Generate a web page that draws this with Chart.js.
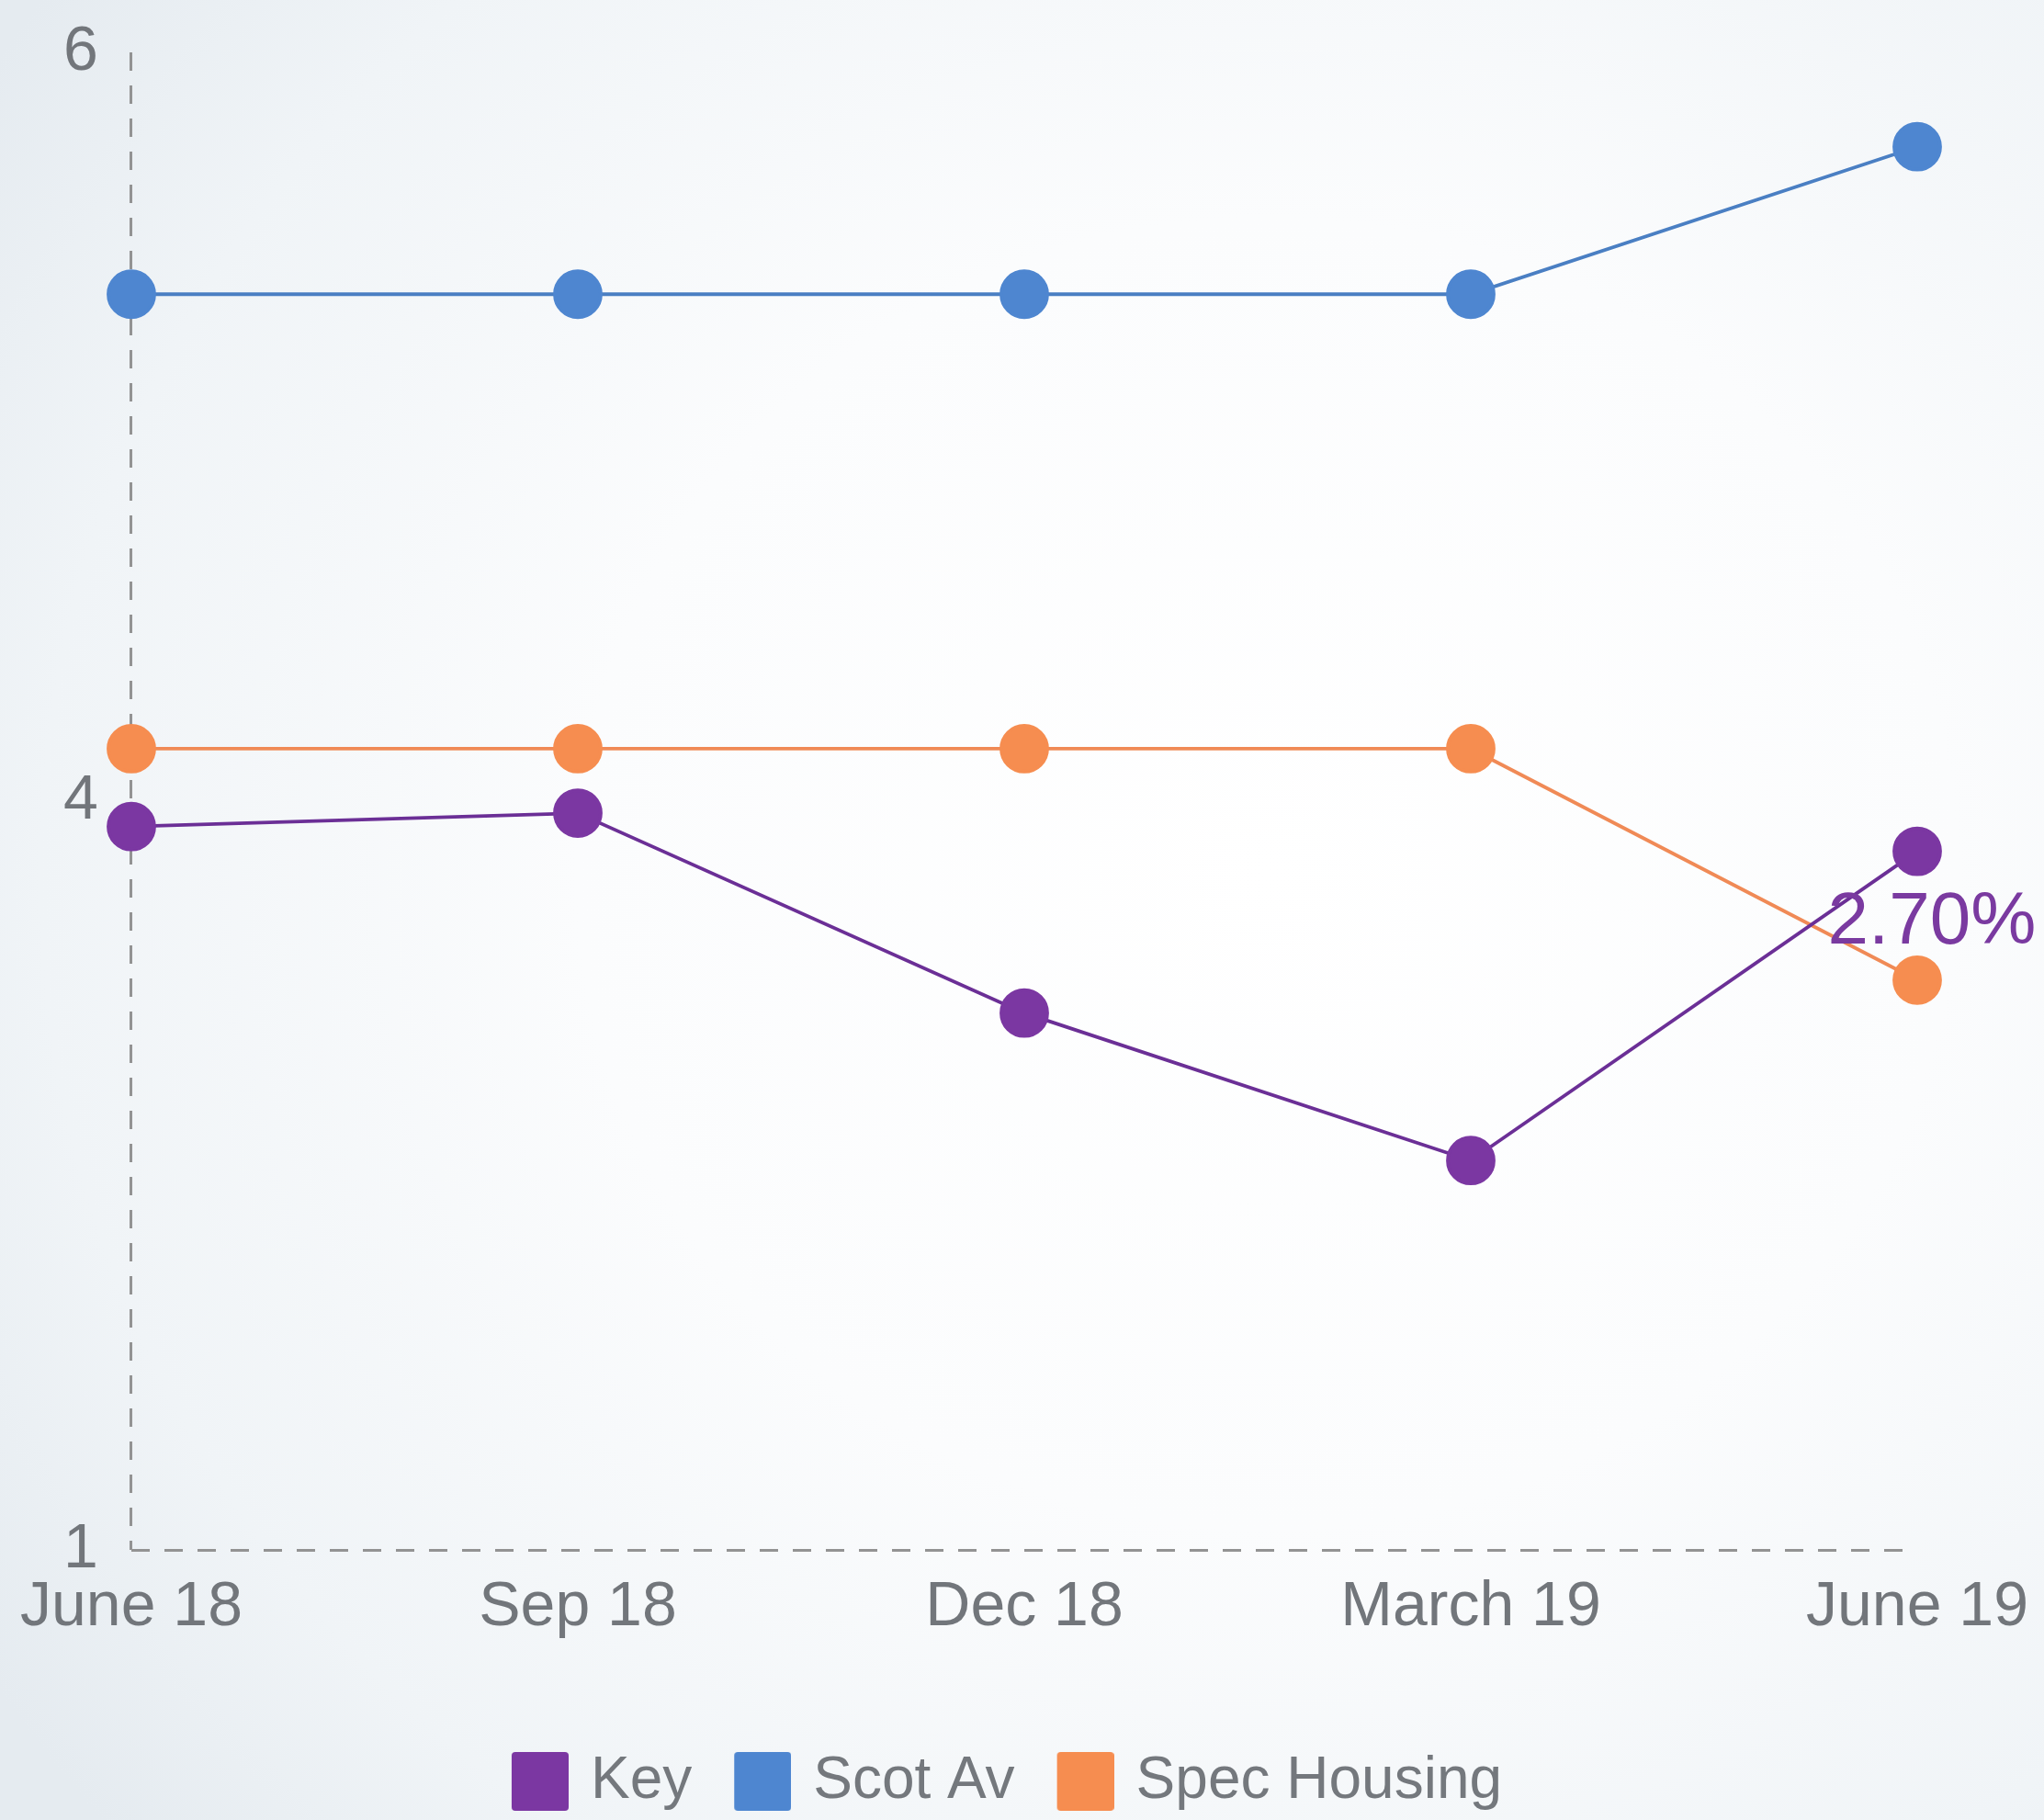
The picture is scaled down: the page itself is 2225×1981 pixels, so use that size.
<!DOCTYPE html>
<html>
<head>
<meta charset="utf-8">
<script src="https://cdn.jsdelivr.net/npm/chart.js@4/dist/chart.umd.min.js"></script>
<style>
  html, body { margin: 0; padding: 0; }
  body {
    width: 2225px; height: 1981px; overflow: hidden;
    background: radial-gradient(ellipse 75% 80% at 62% 48%, #ffffff 0%, #fbfcfd 45%, #f0f4f7 80%, #e5ebf0 100%);
  }
  #wrap { position: absolute; left: 0; top: 0; width: 2225px; height: 1981px; }
</style>
</head>
<body>
<div id="wrap"><canvas id="c"></canvas></div>
<script>
// ---- data ----
const categories = ['June 18', 'Sep 18', 'Dec 18', 'March 19', 'June 19'];
const yTickLabels = ['1', '4', '6'];            // labels shown at axis positions 0, 1, 2
const keyValues = [0.966, 0.984, 0.717, 0.520, 0.933];
const scotAvValues = [1.677, 1.677, 1.677, 1.677, 1.874];
const specHousingValues = [1.070, 1.070, 1.070, 1.070, 0.761];
const keyPointLabels = [null, null, null, null, '2.70%'];

const FONT = '"Liberation Sans", Arial, Helvetica, sans-serif';
const AXIS_GRAY = '#939393';

function legendSwatch(color) {
  const c = document.createElement('canvas');
  c.width = 70; c.height = 64;
  const g = c.getContext('2d');
  g.fillStyle = color;
  const x = 8, y = 0, w = 62, h = 64, r = 4;
  g.beginPath();
  g.moveTo(x + r, y); g.lineTo(x + w - r, y); g.quadraticCurveTo(x + w, y, x + w, y + r);
  g.lineTo(x + w, y + h - r); g.quadraticCurveTo(x + w, y + h, x + w - r, y + h);
  g.lineTo(x + r, y + h); g.quadraticCurveTo(x, y + h, x, y + h - r);
  g.lineTo(x, y + r); g.quadraticCurveTo(x, y, x + r, y);
  g.fill();
  return c;
}

const pointLabelPlugin = {
  id: 'pointLabels',
  afterDatasetsDraw(chart) {
    const meta = chart.getDatasetMeta(0);
    const ctx = chart.ctx;
    ctx.save();
    ctx.font = '80px ' + FONT;
    ctx.fillStyle = '#7a3aa0';
    ctx.textAlign = 'center';
    ctx.textBaseline = 'middle';
    keyPointLabels.forEach((t, i) => {
      if (!t) return;
      const p = meta.data[i];
      ctx.fillText(t, p.x + 16, p.y + 78);
    });
    ctx.restore();
  }
};

const firstLineOnly = (ctx) => ctx.index === 0 ? AXIS_GRAY : 'rgba(0,0,0,0)';

new Chart(document.getElementById('c'), {
  type: 'line',
  data: {
    labels: categories,
    datasets: [
      {
        label: 'Key', data: keyValues,
        borderColor: '#6b2f96', backgroundColor: '#7b37a2',
        pointBackgroundColor: '#7b37a2', pointBorderColor: '#7b37a2',
        borderWidth: 3.8, pointRadius: 25, pointHoverRadius: 25, tension: 0, fill: false
      },
      {
        label: 'Scot Av', data: scotAvValues,
        borderColor: '#4a7fc3', backgroundColor: '#4e86d0',
        pointBackgroundColor: '#4e86d0', pointBorderColor: '#4e86d0',
        borderWidth: 3.8, pointRadius: 25, pointHoverRadius: 25, tension: 0, fill: false
      },
      {
        label: 'Spec Housing', data: specHousingValues,
        borderColor: '#f08a56', backgroundColor: '#f68d50',
        pointBackgroundColor: '#f68d50', pointBorderColor: '#f68d50',
        borderWidth: 3.8, pointRadius: 25, pointHoverRadius: 25, tension: 0, fill: false
      }
    ]
  },
  options: {
    responsive: true,
    maintainAspectRatio: false,
    animation: false,
    layout: { padding: { top: 57, right: 98, bottom: 0, left: 65 } },
    plugins: {
      tooltip: { enabled: false },
      legend: {
        position: 'bottom',
        labels: {
          font: { family: FONT, size: 64 },
          color: '#74787d',
          usePointStyle: true,
          pointStyleWidth: 54,
          boxHeight: 64,
          padding: 46,
          generateLabels(chart) {
            return chart.data.datasets.map((ds, i) => ({
              text: ds.label, fillStyle: ds.backgroundColor, strokeStyle: ds.backgroundColor,
              lineWidth: 0, fontColor: '#74787d', datasetIndex: i, hidden: false,
              pointStyle: legendSwatch(ds.backgroundColor)
            }));
          }
        }
      }
    },
    scales: {
      x: {
        type: 'category',
        offset: false,
        grid: { display: true, drawTicks: false, drawOnChartArea: true, color: firstLineOnly, lineWidth: 3, offset: false },
        border: { display: false, dash: [20, 16] },
        ticks: { font: { family: FONT, size: 68 }, color: '#72767b', padding: 22, maxRotation: 0, autoSkip: false },
        afterFit(s) { s.height = 174; s.paddingRight = 138; }
      },
      y: {
        type: 'linear',
        min: 0, max: 2,
        grid: { display: true, drawTicks: false, drawOnChartArea: true, color: firstLineOnly, lineWidth: 3 },
        border: { display: false, dash: [20, 16] },
        ticks: {
          stepSize: 1,
          font: { family: FONT, size: 68 },
          color: '#72767b',
          padding: 0,
          crossAlign: 'far',
          callback(v) { return yTickLabels[Math.round(v)]; }
        },
        afterFit(s) { s.width = 74; }
      }
    }
  },
  plugins: [pointLabelPlugin]
});
</script>
</body>
</html>
